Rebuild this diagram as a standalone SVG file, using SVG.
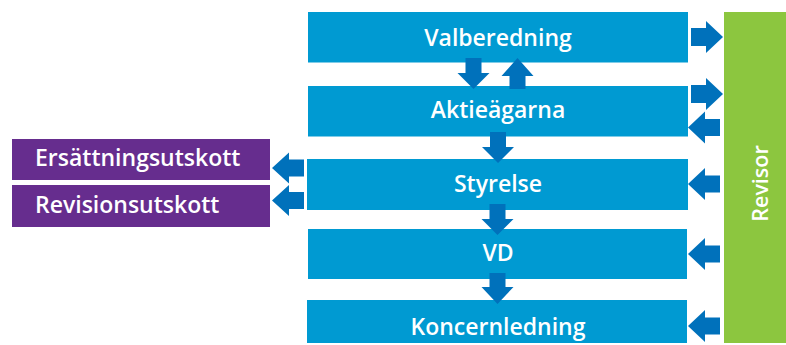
<svg xmlns="http://www.w3.org/2000/svg" width="786" height="345" viewBox="0 0 786 345">
<style>
.box{fill:#009ad2}
.pur{fill:#662d8e}
.rev{fill:#8cc63f}
.arr{fill:#0071bb}
.t{font-family:"Open Sans","Liberation Sans",Arial,sans-serif;font-weight:600;font-size:23px;fill:#ffffff}
.c{text-anchor:middle}
</style>
<rect width="786" height="345" fill="#ffffff"/>
<g id="valberedning"><rect class="box" x="308" y="12" width="380" height="50.5"/><text class="t c" x="498" y="46">Valberedning</text></g>
<g id="aktieagarna"><rect class="box" x="308" y="86" width="380" height="50.5"/><text class="t c" x="498" y="117.5">Aktieägarna</text></g>
<g id="styrelse"><rect class="box" x="307" y="159" width="381" height="51"/><text class="t c" x="498" y="192">Styrelse</text></g>
<g id="vd"><rect class="box" x="308" y="229" width="379" height="50"/><text class="t c" x="498" y="261">VD</text></g>
<g id="koncernledning"><rect class="box" x="307" y="300" width="380" height="43"/><text class="t c" x="498" y="335">Koncernledning</text></g>
<g id="ersattningsutskott"><rect class="pur" x="12" y="139" width="258" height="41"/><text class="t" x="35" y="166">Ersättningsutskott</text></g>
<g id="revisionsutskott"><rect class="pur" x="12" y="185" width="258" height="42"/><text class="t" x="35" y="213">Revisionsutskott</text></g>
<g id="revisor"><rect class="rev" x="724" y="12" width="62" height="331"/><text class="t c" style="font-size:21.5px" transform="translate(768,183.5) rotate(-90)" x="0" y="0">Revisor</text></g>
<g id="connectors">
<polygon class="arr" points="691,28 706,28 706,21 723,37 706,53 706,46 691,46"/>
<polygon class="arr" points="691,85 706,85 706,78 723,94 706,110 706,103 691,103"/>
<polygon class="arr" points="720,119 705,119 705,111.5 688,127.5 705,143.5 705,136 720,136"/>
<polygon class="arr" points="720,175.5 705,175.5 705,168 688,184 705,200 705,192.5 720,192.5"/>
<polygon class="arr" points="720,245.5 705,245.5 705,238 688,254 705,270 705,262.5 720,262.5"/>
<polygon class="arr" points="720,317.5 705,317.5 705,310 688,326 705,342 705,334.5 720,334.5"/>
<polygon class="arr" points="304,159.5 289,159.5 289,152.5 272,168 289,183.5 289,176.5 304,176.5"/>
<polygon class="arr" points="304,192 289,192 289,185 272,200.5 289,216 289,209 304,209"/>
<polygon class="arr" points="465.5,58 481.5,58 481.5,73 489.5,73 473.5,89 457.5,73 465.5,73"/>
<polygon class="arr" points="509.5,89 525.5,89 525.5,76 533.5,76 517.5,58 501.5,76 509.5,76"/>
<polygon class="arr" points="490,132 506,132 506,147 514,147 498,163 482,147 490,147"/>
<polygon class="arr" points="489.5,204 505.5,204 505.5,219 513.5,219 497.5,235 481.5,219 489.5,219"/>
<polygon class="arr" points="489.5,273 505.5,273 505.5,287 513.5,287 497.5,304 481.5,287 489.5,287"/>
</g>
</svg>
